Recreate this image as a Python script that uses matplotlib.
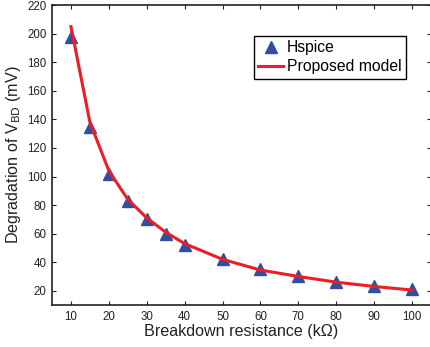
import matplotlib
matplotlib.use("Agg")
import matplotlib.pyplot as plt

plt.rcParams['font.family'] = ['Liberation Sans', 'DejaVu Sans']

# breakdown resistance (kOhm)
resistance = [10, 15, 20, 25, 30, 35, 40, 50, 60, 70, 80, 90, 100]
hspice = [198, 135, 102, 83, 70, 60, 52, 42, 35.5, 30, 26, 23.5, 21.5]
model = [205, 138, 104, 84, 71, 61, 53, 42, 34.5, 30, 26, 23, 20.5]

xticks = list(range(10, 101, 10))
yticks = list(range(20, 221, 20))

fig = plt.figure(figsize=(4.30, 3.47), dpi=100)
ax = fig.add_axes([0.121, 0.121, 0.881, 0.864])

ax.plot(resistance, hspice, linestyle='none', marker='^', markersize=8,
        color='#2f4fa0', label='Hspice')
ax.plot(resistance, model, color='#ee1c25', linewidth=2.2, label='Proposed model')

ax.set_xlim(5, 105)
ax.set_ylim(10, 220)
ax.set_xticks(xticks)
ax.set_yticks(yticks)
ax.tick_params(direction='in', length=3, width=0.8, labelsize=8.3,
               top=True, right=True, colors='#222222', pad=4)
for s in ax.spines.values():
    s.set_linewidth(1.2)
    s.set_color('#222222')

ax.set_xlabel('Breakdown resistance (k\u03a9)', fontsize=11.6, color='#222222', labelpad=1)
ax.set_ylabel('Degradation of V$_{\\mathrm{BD}}$ (mV)', fontsize=11.6, color='#222222', labelpad=3)

leg = ax.legend(loc='upper right', bbox_to_anchor=(0.934, 0.898), fontsize=11.3,
                fancybox=False, framealpha=1, edgecolor='black',
                handlelength=1.6, handletextpad=0.2, borderpad=0.3,
                labelspacing=0.25, borderaxespad=0)
leg.get_frame().set_linewidth(1.0)

fig.savefig('out.png', dpi=100)
